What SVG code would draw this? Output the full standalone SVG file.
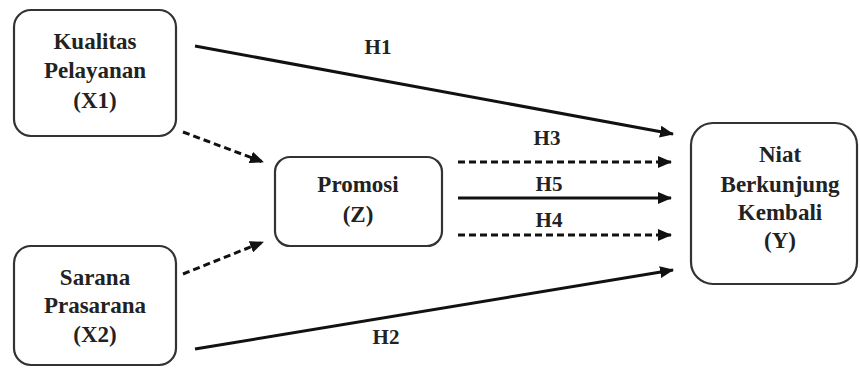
<svg xmlns="http://www.w3.org/2000/svg" width="860" height="369" viewBox="0 0 860 369">
<style>
.box{fill:#fff;stroke:#333;stroke-width:2.2}
.t{font-family:"Liberation Serif","Times New Roman",serif;font-weight:bold;font-size:21px;fill:#222;text-anchor:middle}
.n{font-size:23px}
.ln{stroke:#111;stroke-width:3;fill:none}
.dash{stroke-dasharray:7,4}
</style>
<defs>
<marker id="ah" markerUnits="userSpaceOnUse" markerWidth="14" markerHeight="12" refX="13" refY="6" orient="auto">
<path d="M0,0 L14,6 L0,12 Z" fill="#111"/>
</marker>
</defs>
<rect width="860" height="369" fill="#fff"/>
<g id="connectors">
<line class="ln" x1="195" y1="46" x2="673" y2="134" marker-end="url(#ah)"/>
<line class="ln" x1="195" y1="349" x2="673" y2="270" marker-end="url(#ah)"/>
<line class="ln dash" x1="183" y1="132" x2="263" y2="162" marker-end="url(#ah)"/>
<line class="ln dash" x1="183" y1="274" x2="263" y2="242" marker-end="url(#ah)"/>
<line class="ln dash" x1="458" y1="162" x2="671" y2="162" marker-end="url(#ah)"/>
<line class="ln" x1="458" y1="198" x2="671" y2="198" marker-end="url(#ah)"/>
<line class="ln dash" x1="458" y1="235" x2="671" y2="235" marker-end="url(#ah)"/>
<text class="t" x="378" y="54">H1</text>
<text class="t" x="547" y="145">H3</text>
<text class="t" x="549" y="191">H5</text>
<text class="t" x="549" y="227">H4</text>
<text class="t" x="386" y="344">H2</text>
</g>
<g id="X1">
<rect class="box" x="14" y="10" width="162" height="126" rx="17"/>
<text class="t n" x="95" y="49">Kualitas</text>
<text class="t n" x="95" y="78">Pelayanan</text>
<text class="t n" x="95" y="108">(X1)</text>
</g>
<g id="X2">
<rect class="box" x="14" y="246" width="162" height="119" rx="17"/>
<text class="t n" x="95" y="285">Sarana</text>
<text class="t n" x="95" y="313">Prasarana</text>
<text class="t n" x="95" y="342">(X2)</text>
</g>
<g id="Z">
<rect class="box" x="275" y="157" width="167" height="89" rx="15"/>
<text class="t n" x="358" y="192">Promosi</text>
<text class="t n" x="358" y="222">(Z)</text>
</g>
<g id="Y">
<rect class="box" x="691" y="123" width="166" height="161" rx="22"/>
<text class="t n" x="780" y="162">Niat</text>
<text class="t n" x="780" y="192">Berkunjung</text>
<text class="t n" x="780" y="220">Kembali</text>
<text class="t n" x="780" y="248">(Y)</text>
</g>
</svg>
